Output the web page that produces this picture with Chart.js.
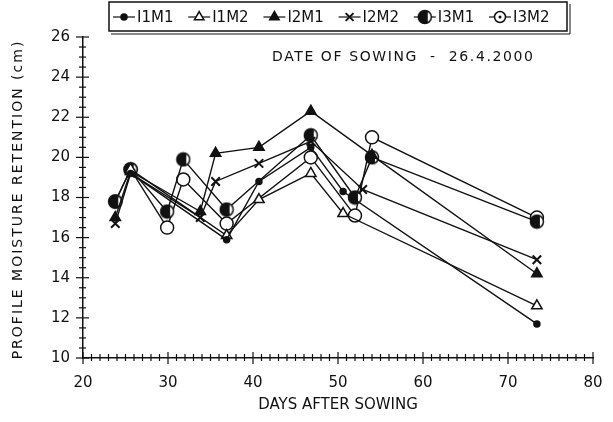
<!DOCTYPE html>
<html>
<head>
<meta charset="utf-8">
<script src="https://cdn.jsdelivr.net/npm/chart.js@4.4.1/dist/chart.umd.min.js"></script>
<style>
  html, body { margin: 0; padding: 0; background: #fff; }
  #wrap { width: 613px; height: 422px; }
</style>
</head>
<body>
<div id="wrap"><canvas id="moistureChart" width="613" height="422"></canvas></div>
<script>
// series data (days after sowing / profile moisture retention, cm)
const seriesNames = ['I1M1', 'I1M2', 'I2M1', 'I2M2', 'I3M1', 'I3M2'];
const i1m1Days = [25.6, 36.9, 40.7, 46.8, 50.6, 73.4];
const i1m1Vals = [19.2, 15.9, 18.8, 20.5, 18.3, 11.7];
const i1m2Days = [25.6, 36.9, 40.7, 46.8, 50.6, 73.4];
const i1m2Vals = [19.4, 16.1, 17.9, 19.2, 17.2, 12.6];
const i2m1Days = [23.8, 25.6, 33.8, 35.6, 40.7, 46.8, 54.0, 73.4];
const i2m1Vals = [17.0, 19.3, 17.3, 20.2, 20.5, 22.3, 20.1, 14.2];
const i2m2Days = [23.8, 25.6, 33.8, 35.6, 40.7, 46.8, 52.9, 73.4];
const i2m2Vals = [16.7, 19.2, 17.0, 18.8, 19.7, 20.8, 18.4, 14.9];
const i3m1Days = [23.8, 25.6, 29.9, 31.8, 36.9, 46.8, 52.0, 54.0, 73.4];
const i3m1Vals = [17.8, 19.4, 17.3, 19.9, 17.4, 21.1, 18.0, 20.0, 16.8];
const i3m2Days = [23.8, 25.6, 29.9, 31.8, 36.9, 46.8, 52.0, 54.0, 73.4];
const i3m2Vals = [17.8, 19.4, 16.5, 18.9, 16.7, 20.0, 17.1, 21.0, 17.0];
const xMajorTicks = [20, 30, 40, 50, 60, 70, 80];
const yMajorTicks = [10, 12, 14, 16, 18, 20, 22, 24, 26];

const FONT = "'DejaVu Sans', 'Liberation Sans', sans-serif";
const INK = '#111';

function toPoints(days, vals) {
    return days.map((d, i) => ({ x: d, y: vals[i] }));
}

// half filled circle marker (or dotted circle for the legend)
function halfCircle(r, dot) {
    const c = document.createElement('canvas');
    const s = r * 2 + 3;
    c.width = s; c.height = s;
    const g = c.getContext('2d');
    const m = s / 2;
    g.beginPath(); g.arc(m, m, r, 0, Math.PI * 2); g.fillStyle = '#fff'; g.fill();
    if (!dot) {
        g.beginPath(); g.arc(m, m, r, Math.PI * 0.35, Math.PI * 1.65); g.closePath();
        g.fillStyle = INK; g.fill();
    } else {
        g.beginPath(); g.arc(m, m, 1.5, 0, Math.PI * 2); g.fillStyle = INK; g.fill();
    }
    g.beginPath(); g.arc(m, m, r, 0, Math.PI * 2); g.lineWidth = 1.5; g.strokeStyle = INK; g.stroke();
    return c;
}
const halfMarker = halfCircle(6.5, false);

function ds(label, days, vals, style) {
    return Object.assign({
        label: label,
        data: toPoints(days, vals),
        borderColor: INK,
        borderWidth: 1.4,
        pointBorderColor: INK,
        pointBorderWidth: 1.5,
        tension: 0,
        fill: false
    }, style);
}

const datasets = [
    ds('I1M1', i1m1Days, i1m1Vals, { pointStyle: 'circle', pointRadius: 3, pointBackgroundColor: INK }),
    ds('I1M2', i1m2Days, i1m2Vals, { pointStyle: 'triangle', pointRadius: 6, pointBackgroundColor: '#fff' }),
    ds('I2M1', i2m1Days, i2m1Vals, { pointStyle: 'triangle', pointRadius: 6, pointBackgroundColor: INK }),
    ds('I2M2', i2m2Days, i2m2Vals, { pointStyle: 'crossRot', pointRadius: 6, pointBorderWidth: 2 }),
    ds('I3M1', i3m1Days, i3m1Vals, { pointStyle: halfMarker, pointRadius: 6.5 }),
    ds('I3M2', i3m2Days, i3m2Vals, { pointStyle: 'circle', pointRadius: 6.5, pointBackgroundColor: '#fff' })
];

// ticks, legend box, axis title and sowing note
const decor = {
    id: 'decor',
    afterDraw(chart) {
        const ctx = chart.ctx;
        const xs = chart.scales.x, ys = chart.scales.y;
        const ax = ys.left + ys.width, ay = xs.top;
        ctx.save();
        ctx.strokeStyle = INK;
        ctx.lineWidth = 1.2;
        // x ticks
        for (let d = 20; d <= 80; d++) {
            const px = xs.getPixelForValue(d);
            const major = xMajorTicks.includes(d);
            ctx.beginPath();
            ctx.moveTo(px, ay - (major ? 6 : 4));
            ctx.lineTo(px, ay + (major ? 6 : 3));
            ctx.stroke();
        }
        // y ticks
        for (let v = 10; v <= 26.001; v += 0.5) {
            const py = ys.getPixelForValue(v);
            const major = yMajorTicks.includes(Math.round(v * 10) / 10);
            ctx.beginPath();
            ctx.moveTo(ax - (major ? 7 : 4), py);
            ctx.lineTo(ax + (major ? 6 : 3), py);
            ctx.stroke();
        }
        ctx.fillStyle = INK;
        ctx.textBaseline = 'middle';
        // y axis title
        ctx.save();
        ctx.translate(18, (ys.top + ys.bottom) / 2 + 2);
        ctx.rotate(-Math.PI / 2);
        ctx.font = '14px ' + FONT;
        ctx.letterSpacing = '2px';
        ctx.textAlign = 'center';
        ctx.fillText('PROFILE MOISTURE RETENTION (cm)', 0, 0);
        ctx.restore();
        // note
        ctx.font = '14px ' + FONT;
        ctx.letterSpacing = '1.6px';
        ctx.textAlign = 'left';
        ctx.fillText('DATE OF SOWING  -  26.4.2000', 272, 57);
        ctx.letterSpacing = '0px';
        // legend
        const ly = 17;
        ctx.lineWidth = 1.5;
        ctx.strokeRect(109, 2, 458, 29);
        ctx.lineWidth = 1;
        ctx.beginPath();
        ctx.moveTo(111, 34); ctx.lineTo(570, 34); ctx.lineTo(570, 4);
        ctx.stroke();
        ctx.font = '15px ' + FONT;
        datasets.forEach((d, i) => {
            const x0 = 113 + 75.2 * i;
            ctx.lineWidth = 1.2;
            ctx.beginPath(); ctx.moveTo(x0, ly); ctx.lineTo(x0 + 22, ly); ctx.stroke();
            ctx.fillStyle = d.pointBackgroundColor || INK;
            ctx.strokeStyle = INK;
            ctx.lineWidth = d.pointBorderWidth;
            let style = d.pointStyle;
            if (i === 5) style = halfCircle(5.5, true);
            Chart.helpers.drawPoint(ctx, { pointStyle: style, radius: i === 0 ? 3 : 5.5, borderWidth: d.pointBorderWidth, rotation: 0 }, x0 + 11, ly);
            ctx.fillStyle = INK;
            ctx.fillText(seriesNames[i], x0 + 24, ly + 1);
        });
        ctx.restore();
    }
};

new Chart(document.getElementById('moistureChart').getContext('2d'), {
    type: 'line',
    data: { datasets: datasets },
    options: {
        responsive: false,
        animation: false,
        layout: { padding: { top: 37, right: 20, left: 6, bottom: 8 } },
        plugins: { legend: { display: false }, tooltip: { enabled: false } },
        scales: {
            x: {
                type: 'linear',
                min: 20, max: 80,
                afterFit(scale) { scale.height = 56; scale.paddingRight = 0; scale.paddingLeft = 0; },
                border: { display: true, color: INK, width: 1.5 },
                grid: { display: false, drawTicks: false },
                ticks: { stepSize: 10, color: INK, padding: 16, font: { size: 15, family: FONT }, maxRotation: 0 },
                title: { display: true, text: 'DAYS AFTER SOWING', color: INK, font: { size: 15, family: FONT }, padding: { top: 2, bottom: 0 } }
            },
            y: {
                min: 10, max: 26,
                afterFit(scale) { scale.width = 77; },
                border: { display: true, color: INK, width: 1.5 },
                grid: { display: false, drawTicks: false },
                ticks: { stepSize: 2, color: INK, padding: 13, font: { size: 15, family: FONT } },
                title: { display: false }
            }
        }
    },
    plugins: [decor]
});
</script>
</body>
</html>
